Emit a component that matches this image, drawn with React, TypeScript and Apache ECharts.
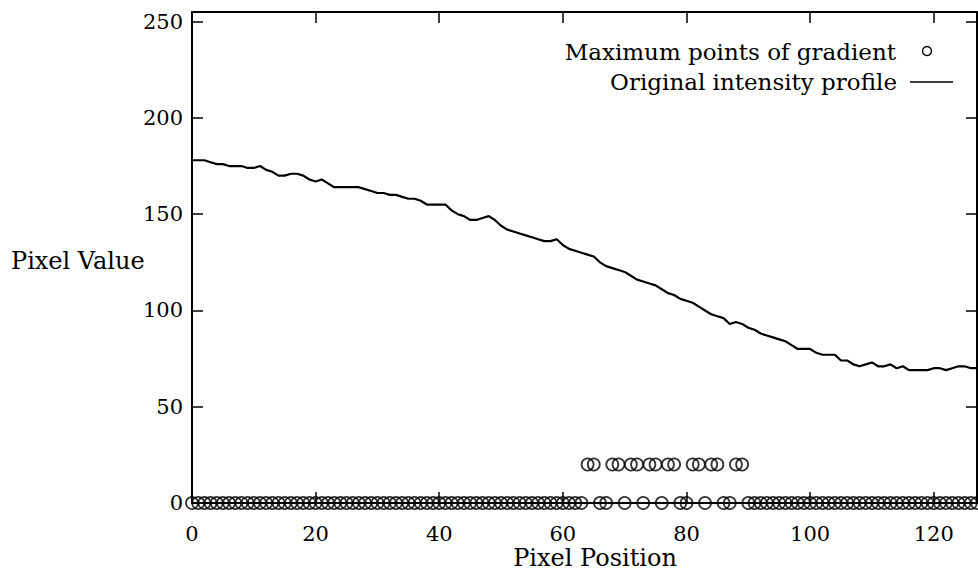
import React, { useEffect, useRef } from "react";
import * as echarts from "echarts";

// Pixel positions 0..127
const pixelPositions: number[] = [
  0, 1, 2, 3, 4, 5, 6, 7, 8, 9, 10, 11, 12, 13, 14, 15, 16, 17, 18, 19,
  20, 21, 22, 23, 24, 25, 26, 27, 28, 29, 30, 31, 32, 33, 34, 35, 36, 37, 38, 39,
  40, 41, 42, 43, 44, 45, 46, 47, 48, 49, 50, 51, 52, 53, 54, 55, 56, 57, 58, 59,
  60, 61, 62, 63, 64, 65, 66, 67, 68, 69, 70, 71, 72, 73, 74, 75, 76, 77, 78, 79,
  80, 81, 82, 83, 84, 85, 86, 87, 88, 89, 90, 91, 92, 93, 94, 95, 96, 97, 98, 99,
  100, 101, 102, 103, 104, 105, 106, 107, 108, 109, 110, 111, 112, 113, 114, 115, 116, 117, 118, 119,
  120, 121, 122, 123, 124, 125, 126, 127,
];

// Original intensity profile
const intensityProfile: number[] = [
  178, 178, 178, 177, 176, 176, 175, 175, 175, 174, 174, 175, 173, 172, 170, 170, 171, 171, 170, 168,
  167, 168, 166, 164, 164, 164, 164, 164, 163, 162, 161, 161, 160, 160, 159, 158, 158, 157, 155, 155,
  155, 155, 152, 150, 149, 147, 147, 148, 149, 147, 144, 142, 141, 140, 139, 138, 137, 136, 136, 137,
  134, 132, 131, 130, 129, 128, 125, 123, 122, 121, 120, 118, 116, 115, 114, 113, 111, 109, 108, 106,
  105, 104, 102, 100, 98, 97, 96, 93, 94, 93, 91, 90, 88, 87, 86, 85, 84, 82, 80, 80,
  80, 78, 77, 77, 77, 74, 74, 72, 71, 72, 73, 71, 71, 72, 70, 71, 69, 69, 69, 69,
  70, 70, 69, 70, 71, 71, 70, 70,
];

// Maximum points of gradient (0 or 20 at each pixel position)
const gradientMaxima: number[] = [
  0, 0, 0, 0, 0, 0, 0, 0, 0, 0, 0, 0, 0, 0, 0, 0, 0, 0, 0, 0,
  0, 0, 0, 0, 0, 0, 0, 0, 0, 0, 0, 0, 0, 0, 0, 0, 0, 0, 0, 0,
  0, 0, 0, 0, 0, 0, 0, 0, 0, 0, 0, 0, 0, 0, 0, 0, 0, 0, 0, 0,
  0, 0, 0, 0, 20, 20, 0, 0, 20, 20, 0, 20, 20, 0, 20, 20, 0, 20, 20, 0,
  0, 20, 20, 0, 20, 20, 0, 0, 20, 20, 0, 0, 0, 0, 0, 0, 0, 0, 0, 0,
  0, 0, 0, 0, 0, 0, 0, 0, 0, 0, 0, 0, 0, 0, 0, 0, 0, 0, 0, 0,
  0, 0, 0, 0, 0, 0, 0, 0,
];

const xTicks = [0, 20, 40, 60, 80, 100, 120];
const yTicks = [0, 50, 100, 150, 200, 250];

const FONT = "'DejaVu Serif', 'Liberation Serif', serif";

export default function App() {
  const ref = useRef<HTMLDivElement>(null);

  useEffect(() => {
    if (!ref.current) return;
    const chart = echarts.init(ref.current, null, { renderer: "svg" });

    const profileData = pixelPositions.map((x, i) => [x, intensityProfile[i]]);
    const gradientData = pixelPositions.map((x, i) => [x, gradientMaxima[i]]);

    const tickCommon = {
      show: true,
      inside: true,
      length: 11,
      lineStyle: { color: "#000", width: 1.5 },
    };
    const axisLineCommon = { show: true, onZero: false, lineStyle: { color: "#000", width: 2 } };

    chart.setOption({
      animation: false,
      backgroundColor: "#fff",
      grid: { left: 192, right: 1, top: 12, bottom: 77, containLabel: false },
      xAxis: [
        {
          type: "value",
          min: 0,
          max: 127,
          interval: 20,
          position: "bottom",
          axisLine: axisLineCommon,
          axisTick: tickCommon,
          splitLine: { show: false },
          axisLabel: {
            show: true,
            margin: 20,
            color: "#000",
            fontFamily: FONT,
            fontSize: 21,
            showMaxLabel: false,
            formatter: (v: number) => (xTicks.includes(v) ? String(v) : ""),
          },
        },
        {
          type: "value",
          min: 0,
          max: 127,
          interval: 20,
          position: "top",
          axisLine: axisLineCommon,
          axisTick: tickCommon,
          splitLine: { show: false },
          axisLabel: { show: false },
        },
      ],
      yAxis: [
        {
          type: "value",
          min: 0,
          max: 255,
          interval: 50,
          position: "left",
          axisLine: axisLineCommon,
          axisTick: tickCommon,
          splitLine: { show: false },
          axisLabel: {
            show: true,
            margin: 9,
            color: "#000",
            fontFamily: FONT,
            fontSize: 21,
            showMaxLabel: false,
            formatter: (v: number) => (yTicks.includes(v) ? String(v) : ""),
          },
        },
        {
          type: "value",
          min: 0,
          max: 255,
          interval: 50,
          position: "right",
          axisLine: axisLineCommon,
          axisTick: tickCommon,
          splitLine: { show: false },
          axisLabel: { show: false },
        },
      ],
      series: [
        {
          name: "Maximum points of gradient",
          type: "scatter",
          data: gradientData,
          symbol: "circle",
          symbolSize: 12,
          itemStyle: { color: "rgba(255,255,255,0)", borderColor: "#000", borderWidth: 1.8 },
          z: 3,
        },
        {
          name: "Original intensity profile",
          type: "line",
          data: profileData,
          showSymbol: false,
          symbol: "none",
          lineStyle: { color: "#000", width: 2.2 },
          z: 4,
        },
      ],
      graphic: [
        {
          type: "text",
          x: 11,
          y: 261,
          style: {
            text: "Pixel Value",
            fill: "#000",
            font: `24px ${FONT}`,
            verticalAlign: "middle",
          },
        },
        {
          type: "text",
          x: 595,
          y: 558,
          style: {
            text: "Pixel Position",
            fill: "#000",
            font: `24px ${FONT}`,
            align: "center",
            verticalAlign: "middle",
          },
        },
        {
          type: "text",
          x: 896,
          y: 52,
          style: {
            text: "Maximum points of gradient",
            fill: "#000",
            font: `23px ${FONT}`,
            align: "right",
            verticalAlign: "middle",
          },
        },
        {
          type: "circle",
          shape: { cx: 927, cy: 51, r: 4.5 },
          style: { fill: "none", stroke: "#000", lineWidth: 1.4 },
        },
        {
          type: "text",
          x: 897,
          y: 82,
          style: {
            text: "Original intensity profile",
            fill: "#000",
            font: `23px ${FONT}`,
            align: "right",
            verticalAlign: "middle",
          },
        },
        {
          type: "line",
          shape: { x1: 910, y1: 82, x2: 953, y2: 82 },
          style: { stroke: "#000", lineWidth: 1.5 },
        },
      ],
    });

    return () => chart.dispose();
  }, []);

  return (
    <div
      ref={ref}
      style={{ position: "fixed", left: 0, top: 0, width: 978, height: 580, background: "#fff" }}
    />
  );
}
